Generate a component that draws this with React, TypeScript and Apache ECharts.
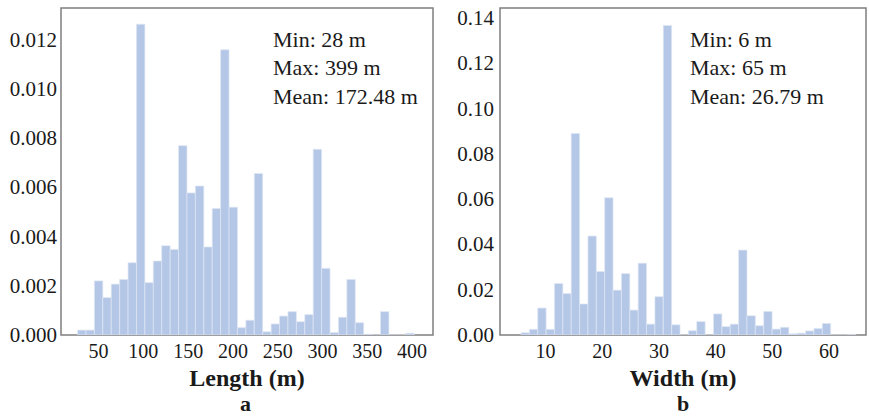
import React, { useEffect, useRef } from "react";
import * as echarts from "echarts";

// Histogram a: ship length (m), 40 bins
const lengthBinStart = 26.5;
const lengthBinWidth = 9.4;
const lengthDensity = [
  0.0002, 0.0002, 0.0022, 0.00152, 0.00207, 0.00226, 0.00294, 0.01264, 0.00213, 0.00301,
  0.00363, 0.00348, 0.0077, 0.00578, 0.00606, 0.00358, 0.00515, 0.0116, 0.0052, 0.0003,
  0.0006, 0.00657, 0.00013, 0.00045, 0.00077, 0.00095, 0.00054, 0.00083, 0.00755, 0.00271,
  0.0001, 0.00072, 0.00226, 0.0005, 0.00003, 0, 0.00095, 0, 0, 0.00007,
];
const lengthTicksX = [50, 100, 150, 200, 250, 300, 350, 400];
const lengthTicksY = [0, 0.002, 0.004, 0.006, 0.008, 0.01, 0.012];
const lengthStats = ["Min: 28 m", "Max: 399 m", "Mean: 172.48 m"];

// Histogram b: ship width (m), 40 bins
const widthBinStart = 5.7;
const widthBinWidth = 1.475;
const widthDensity = [
  0.001, 0.0025, 0.0119, 0.0025, 0.0227, 0.0183, 0.089, 0.0137, 0.0437, 0.028,
  0.0606, 0.0198, 0.0271, 0.011, 0.0317, 0.0048, 0.0169, 0.1367, 0.0045, 0,
  0.0019, 0.0059, 0, 0.0093, 0.0037, 0.0048, 0.0375, 0.0085, 0.0041, 0.0104,
  0.0026, 0.0034, 0.0005, 0.0008, 0.0018, 0.0029, 0.0051, 0, 0, 0.0003,
];
const widthTicksX = [10, 20, 30, 40, 50, 60];
const widthTicksY = [0, 0.02, 0.04, 0.06, 0.08, 0.1, 0.12, 0.14];
const widthStats = ["Min: 6 m", "Max: 65 m", "Mean: 26.79 m"];

const FONT = "'Liberation Serif', 'Times New Roman', serif";
const BAR = "#b4c7e7";
const TEXT = "#1a1a1a";

function bins(start: number, width: number, vals: number[]) {
  return vals.map((v, i) => [start + i * width, start + (i + 1) * width, v]);
}

const renderBar = (params: any, api: any) => {
  const x0 = api.value(0);
  const x1 = api.value(1);
  const y = api.value(2);
  const p0 = api.coord([x0, y]);
  const p1 = api.coord([x1, 0]);
  return {
    type: "rect",
    shape: { x: p0[0], y: p0[1], width: p1[0] - p0[0], height: p1[1] - p0[1] },
    style: { fill: BAR, stroke: "#dfe7f4", lineWidth: 0.7 },
  };
};

export default function App() {
  const ref = useRef<HTMLDivElement>(null);
  useEffect(() => {
    if (!ref.current) return;
    const chart = echarts.init(ref.current, undefined, { renderer: "svg" });
    const axisLabel = { color: TEXT, fontFamily: FONT, fontSize: 20 };
    const statText = (lines: string[], x: number) =>
      lines.map((t, i) => ({
        type: "text",
        left: x,
        top: 28 + i * 28.5,
        style: { text: t, fill: TEXT, font: `22px ${FONT}` },
      }));
    chart.setOption({
      animation: false,
      backgroundColor: "#fff",
      grid: [
        { left: 61, top: 8, width: 372, height: 327, show: true, borderColor: "#7f7f7f", borderWidth: 1.5, backgroundColor: "transparent" },
        { left: 500, top: 8, width: 366, height: 327, show: true, borderColor: "#7f7f7f", borderWidth: 1.5, backgroundColor: "transparent" },
      ],
      xAxis: [
        {
          type: "value", gridIndex: 0, min: 8, max: 423.5,
          axisLine: { show: false }, axisTick: { show: false }, splitLine: { show: false },
          axisLabel: { ...axisLabel, customValues: lengthTicksX, margin: 6 },
          name: "Length (m)", nameLocation: "middle", nameGap: 29,
          nameTextStyle: { color: TEXT, fontFamily: FONT, fontSize: 24, fontWeight: "bold" },
        },
        {
          type: "value", gridIndex: 1, min: 2, max: 66.5,
          axisLine: { show: false }, axisTick: { show: false }, splitLine: { show: false },
          axisLabel: { ...axisLabel, customValues: widthTicksX, margin: 6 },
          name: "Width (m)", nameLocation: "middle", nameGap: 29,
          nameTextStyle: { color: TEXT, fontFamily: FONT, fontSize: 24, fontWeight: "bold" },
        },
      ],
      yAxis: [
        {
          type: "value", gridIndex: 0, min: 0, max: 0.0133,
          axisLine: { show: false }, axisTick: { show: false }, splitLine: { show: false },
          axisLabel: { ...axisLabel, fontSize: 21, customValues: lengthTicksY, margin: 4, formatter: (v: number) => v.toFixed(3) },
        },
        {
          type: "value", gridIndex: 1, min: 0, max: 0.1444,
          axisLine: { show: false }, axisTick: { show: false }, splitLine: { show: false },
          axisLabel: { ...axisLabel, fontSize: 21, customValues: widthTicksY, margin: 6, formatter: (v: number) => v.toFixed(2) },
        },
      ],
      series: [
        {
          type: "custom", xAxisIndex: 0, yAxisIndex: 0,
          data: bins(lengthBinStart, lengthBinWidth, lengthDensity),
          encode: { x: [0, 1], y: 2 }, renderItem: renderBar, clip: true,
        },
        {
          type: "custom", xAxisIndex: 1, yAxisIndex: 1,
          data: bins(widthBinStart, widthBinWidth, widthDensity),
          encode: { x: [0, 1], y: 2 }, renderItem: renderBar, clip: true,
        },
      ],
      graphic: [
        ...statText(lengthStats, 273),
        ...statText(widthStats, 690),
        { type: "text", left: 240, top: 392, style: { text: "a", fill: TEXT, font: `bold 22px ${FONT}` } },
        { type: "text", left: 677, top: 392, style: { text: "b", fill: TEXT, font: `bold 22px ${FONT}` } },
      ],
    });
    return () => chart.dispose();
  }, []);
  return (
    <div
      ref={ref}
      style={{ position: "fixed", left: 0, top: 0, width: 869, height: 417, background: "#fff" }}
    />
  );
}
